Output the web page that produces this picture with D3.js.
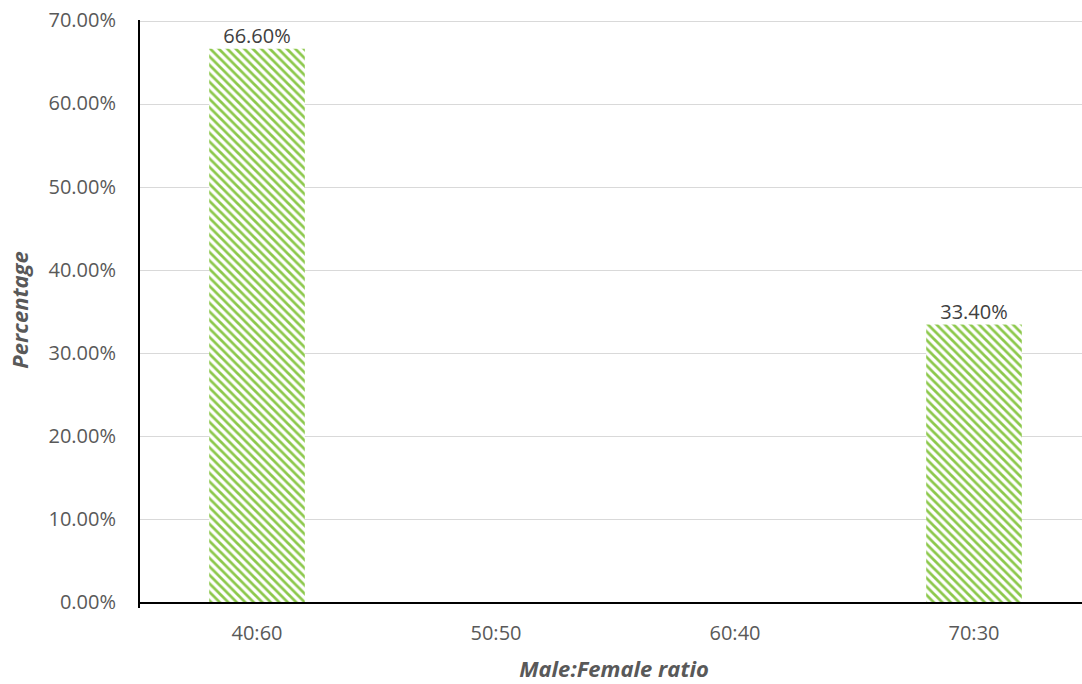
<!DOCTYPE html>
<html>
<head>
<meta charset="utf-8">
<script src="https://cdn.jsdelivr.net/npm/d3@7"></script>
<style>
  html, body { margin: 0; padding: 0; background: #fff; }
  svg { display: block; }
</style>
</head>
<body>
<svg id="chart" width="1082" height="684"></svg>
<script>
// Share of respondents by male:female ratio
const categories = ["40:60", "50:50", "60:40", "70:30"];
const values = [66.6, 0, 0, 33.4];
const yTicks = [0, 10, 20, 30, 40, 50, 60, 70];

const W = 1082, H = 684;
const margin = { top: 20.5, left: 139, bottom: 602 };
const svg = d3.select("#chart");
const FONT = "'Open Sans', sans-serif";

const x = d3.scaleBand()
  .domain(categories)
  .range([137.5, 1093.5])
  .paddingInner(0.6)
  .paddingOuter(0.3);

const y = d3.scaleLinear()
  .domain([0, 70])
  .range([margin.bottom, margin.top]);

// diagonal hatch fill
const defs = svg.append("defs");
const pat = defs.append("pattern")
  .attr("id", "hatch")
  .attr("patternUnits", "userSpaceOnUse")
  .attr("width", 8.5)
  .attr("height", 8.5);
pat.append("rect").attr("width", 8.5).attr("height", 8.5).attr("fill", "#fff");
pat.append("path")
  .attr("d", "M-2,-2 L10.5,10.5 M-2,6.5 L2,10.5 M6.5,-2 L10.5,2")
  .attr("stroke", "#8cc84b")
  .attr("stroke-width", 2.7);

// gridlines
svg.append("g")
  .selectAll("line")
  .data(yTicks.slice(1))
  .join("line")
  .attr("x1", margin.left)
  .attr("x2", W)
  .attr("y1", d => Math.round(y(d)) + 0.5)
  .attr("y2", d => Math.round(y(d)) + 0.5)
  .attr("stroke", "#d9d9d9")
  .attr("stroke-width", 1);

// y axis labels
const yAxis = d3.axisLeft(y)
  .tickValues(yTicks)
  .tickSize(0)
  .tickPadding(0)
  .tickFormat(d => d.toFixed(2) + "%");
const gy = svg.append("g")
  .attr("transform", "translate(116,0)")
  .call(yAxis);
gy.select(".domain").remove();
gy.selectAll("text")
  .attr("font-family", FONT)
  .attr("font-size", 20)
  .attr("fill", "#595959");

// bars
const barData = categories.map((c, i) => ({ c, v: values[i] })).filter(d => d.v > 0);
svg.append("g")
  .selectAll("rect")
  .data(barData)
  .join("rect")
  .attr("x", d => x(d.c))
  .attr("y", d => y(d.v))
  .attr("width", x.bandwidth())
  .attr("height", d => y(0) - y(d.v))
  .attr("fill", "url(#hatch)");

// value labels
svg.append("g")
  .selectAll("text")
  .data(barData)
  .join("text")
  .attr("x", d => x(d.c) + x.bandwidth() / 2)
  .attr("y", d => y(d.v) - 6)
  .attr("text-anchor", "middle")
  .attr("font-family", FONT)
  .attr("font-size", 20)
  .attr("fill", "#404040")
  .text(d => d.v.toFixed(2) + "%");

// axis lines
svg.append("line")
  .attr("x1", margin.left).attr("x2", margin.left)
  .attr("y1", 20).attr("y2", 608)
  .attr("stroke", "#000").attr("stroke-width", 2);
svg.append("line")
  .attr("x1", margin.left).attr("x2", W)
  .attr("y1", 603).attr("y2", 603)
  .attr("stroke", "#000").attr("stroke-width", 2);

// x axis labels
const xAxis = d3.axisBottom(x).tickSize(0).tickPadding(0);
const gx = svg.append("g")
  .attr("transform", "translate(0,626)")
  .call(xAxis);
gx.select(".domain").remove();
gx.selectAll("text")
  .attr("font-family", FONT)
  .attr("font-size", 20)
  .attr("fill", "#595959");

// axis titles
svg.append("text")
  .attr("x", 614)
  .attr("y", 677)
  .attr("text-anchor", "middle")
  .attr("font-family", FONT)
  .attr("font-size", 22)
  .attr("font-weight", "bold")
  .attr("font-style", "italic")
  .attr("fill", "#595959")
  .text("Male:Female ratio");

svg.append("text")
  .attr("transform", "translate(28,310) rotate(-90)")
  .attr("text-anchor", "middle")
  .attr("font-family", FONT)
  .attr("font-size", 22)
  .attr("font-weight", "bold")
  .attr("font-style", "italic")
  .attr("fill", "#595959")
  .text("Percentage");
</script>
</body>
</html>
